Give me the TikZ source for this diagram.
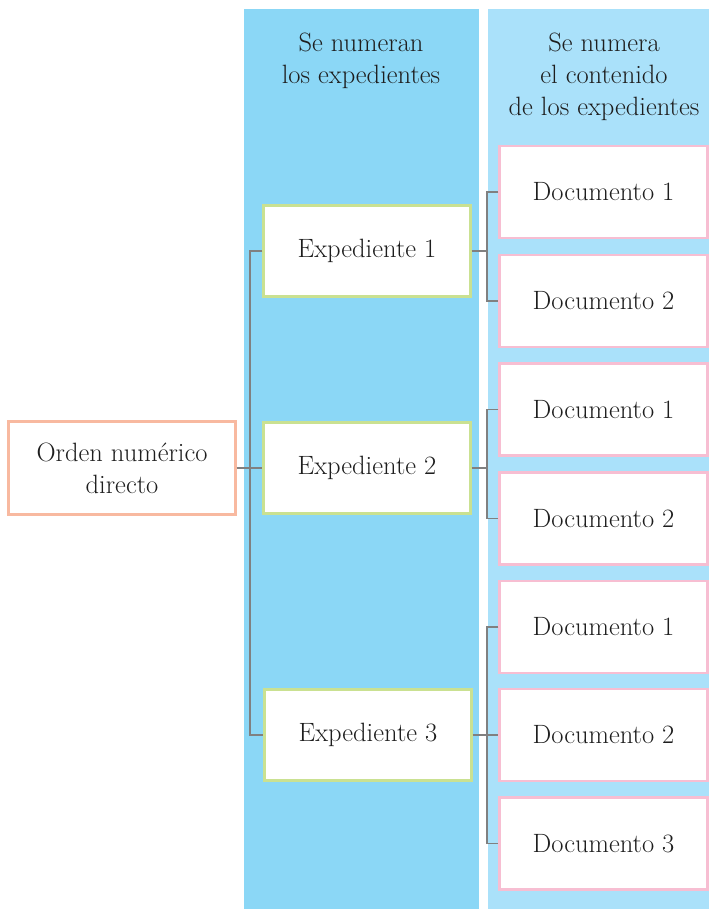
\documentclass[tikz,border=0pt]{standalone}
\usepackage{fontspec}
\definecolor{colA}{RGB}{139,215,246}
\definecolor{colB}{RGB}{170,225,250}
\definecolor{ordC}{RGB}{248,185,160}
\definecolor{expC}{RGB}{202,225,145}
\definecolor{docC}{RGB}{247,190,210}
\definecolor{lineC}{RGB}{128,128,128}
\definecolor{txtC}{RGB}{30,30,30}
\begin{document}
\begin{tikzpicture}[x=1pt,y=-1pt,
  every node/.style={font=\fontsize{26.5}{32}\selectfont, text=txtC},
  basebox/.style={draw, line width=2.2pt, fill=white, rectangle, inner sep=0pt, align=center},
  ordbox/.style={basebox, draw=ordC, minimum width=227pt, minimum height=93pt},
  expbox/.style={basebox, draw=expC, minimum width=207pt, minimum height=91pt},
  docbox/.style={basebox, draw=docC, minimum width=208pt, minimum height=92pt},
  conn/.style={draw=lineC, line width=1.6pt},
  head/.style={align=center}]
\useasboundingbox (0,0) rectangle (709,909);
\fill[colA] (244,9) rectangle (479,909);
\fill[colB] (488,9) rectangle (709,909);
\node[head] (h1) at (361,61) {Se numeran\\los expedientes};
\node[head] (h2) at (604,77) {Se numera\\el contenido\\de los expedientes};
\coordinate (bL) at (250,0);
\coordinate (bR) at (487,0);
\node[ordbox] (ord) at (122,468) {Orden numérico\\directo};
\node[expbox] (e1) at (367,251) {Expediente 1};
\node[expbox] (e2) at (367,468) {Expediente 2};
\node[expbox] (e3) at (368,735) {Expediente 3};
\node[docbox] (d1) at (603.5,192) {Documento 1};
\node[docbox] (d2) at (603.5,301) {Documento 2};
\node[docbox] (d3) at (603.5,409.5) {Documento 1};
\node[docbox] (d4) at (603.5,518.5) {Documento 2};
\node[docbox] (d5) at (603.5,627) {Documento 1};
\node[docbox] (d6) at (603.5,735) {Documento 2};
\node[docbox] (d7) at (603.5,843.5) {Documento 3};
\draw[conn] (ord.east) -- (e2.west);
\draw[conn] (e1.west) -- (e1.west -| bL) -- (e3.west -| bL) -- (e3.west);
\draw[conn] (e1.east) -- (e1.east -| bR);
\draw[conn] (d1.west) -- (d1.west -| bR) -- (d2.west -| bR) -- (d2.west);
\draw[conn] (e2.east) -- (e2.east -| bR);
\draw[conn] (d3.west) -- (d3.west -| bR) -- (d4.west -| bR) -- (d4.west);
\draw[conn] (e3.east) -- (d6.west);
\draw[conn] (d5.west) -- (d5.west -| bR) -- (d7.west -| bR) -- (d7.west);
\end{tikzpicture}
\end{document}
